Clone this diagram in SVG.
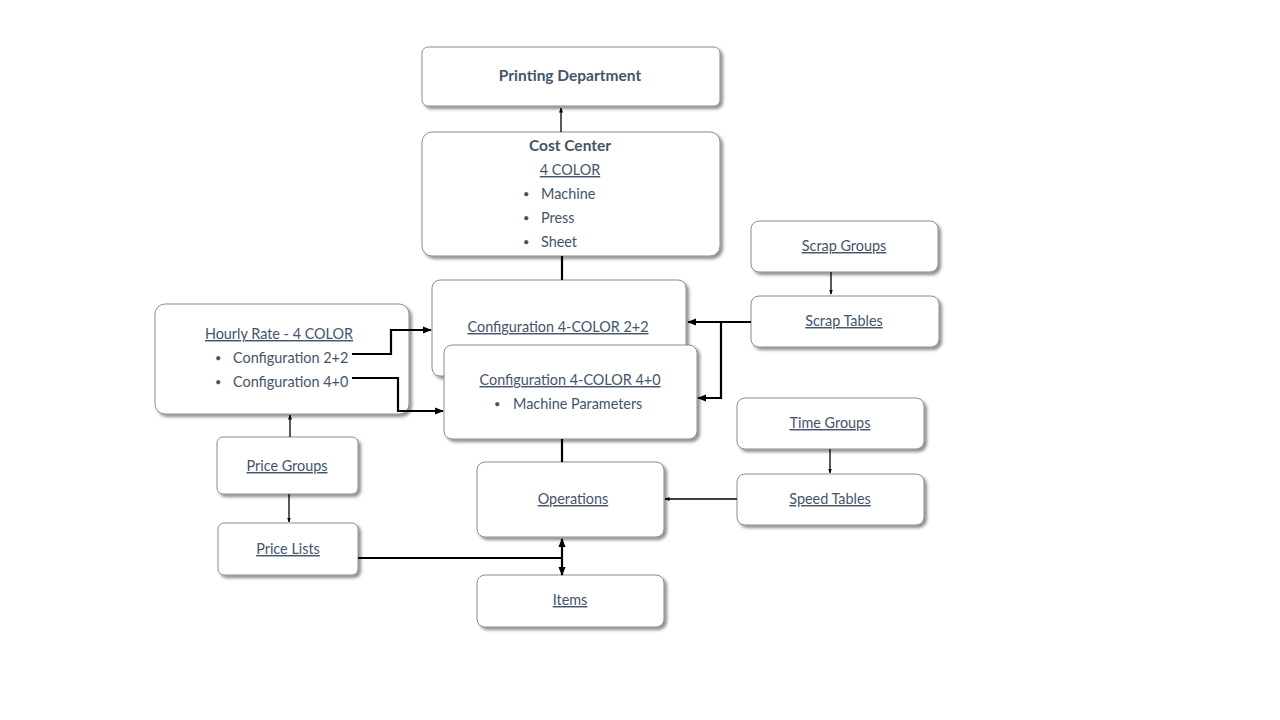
<svg xmlns="http://www.w3.org/2000/svg" width="1280" height="720" viewBox="0 0 1280 720">
<defs>
<filter id="sh" x="-10%" y="-10%" width="130%" height="140%">
<feDropShadow dx="2.5" dy="2.5" stdDeviation="1.5" flood-color="#000" flood-opacity="0.45"/>
</filter>
<marker id="ah" viewBox="0 0 10 10" refX="9" refY="5" markerWidth="5" markerHeight="5" orient="auto-start-reverse" markerUnits="userSpaceOnUse">
<path d="M0,1 L10,5 L0,9 z" fill="#000"/>
</marker>
<marker id="ahb" viewBox="0 0 10 10" refX="9" refY="5" markerWidth="9" markerHeight="9" orient="auto-start-reverse" markerUnits="userSpaceOnUse">
<path d="M0,1 L10,5 L0,9 z" fill="#000"/>
</marker>
</defs>
<style>
.box{fill:#fff;stroke:#8c8c8c;stroke-width:1;filter:url(#sh)}
text{font-family:Lato,"Open Sans","Liberation Sans",sans-serif;font-size:14.4px;fill:#44546A}
.c{text-anchor:middle}
.b{font-weight:bold;font-size:15.5px}
.u{text-decoration:underline}
.bl{font-size:11px}
.thin{stroke:#000;stroke-width:1.3;fill:none}
.thick{stroke:#000;stroke-width:2.2;fill:none}
</style>
<rect width="1280" height="720" fill="#fff"/>

<g id="printing-department">
<rect class="box" x="422" y="47" width="298" height="59" rx="6"/>
<text class="c b" x="570" y="81">Printing Department</text>
</g>

<g id="cost-center">
<rect class="box" x="422" y="132" width="298" height="124" rx="10"/>
<text class="c b" x="570" y="151">Cost Center</text>
<text class="c u" x="570" y="175">4 COLOR</text>
<text class="bl" x="523" y="198">•</text><text x="541" y="199">Machine</text>
<text class="bl" x="523" y="222">•</text><text x="541" y="223">Press</text>
<text class="bl" x="523" y="246">•</text><text x="541" y="247">Sheet</text>
</g>

<g id="hourly-rate">
<rect class="box" x="155" y="304" width="254" height="110" rx="10"/>
<text class="c u" x="279" y="339">Hourly Rate - 4 COLOR</text>
<text class="bl" x="215" y="362">•</text><text x="233" y="363">Configuration 2+2</text>
<text class="bl" x="215" y="386">•</text><text x="233" y="387">Configuration 4+0</text>
</g>

<g id="config-22">
<rect class="box" x="432" y="280" width="254" height="96" rx="8"/>
<text class="c u" x="558" y="332">Configuration 4-COLOR 2+2</text>
</g>

<g id="config-40">
<rect class="box" x="444" y="345" width="253" height="94" rx="8"/>
<text class="c u" x="570" y="385">Configuration 4-COLOR 4+0</text>
<text class="bl" x="494" y="408">•</text><text x="513" y="409">Machine Parameters</text>
</g>

<g id="scrap-groups">
<rect class="box" x="751" y="221" width="187" height="51" rx="8"/>
<text class="c u" x="844" y="251">Scrap Groups</text>
</g>

<g id="scrap-tables">
<rect class="box" x="751" y="296" width="188" height="51" rx="8"/>
<text class="c u" x="844" y="326">Scrap Tables</text>
</g>

<g id="time-groups">
<rect class="box" x="737" y="398" width="187" height="51" rx="8"/>
<text class="c u" x="830" y="428">Time Groups</text>
</g>

<g id="speed-tables">
<rect class="box" x="737" y="474" width="187" height="51" rx="8"/>
<text class="c u" x="830" y="504">Speed Tables</text>
</g>

<g id="operations">
<rect class="box" x="477" y="462" width="187" height="75" rx="8"/>
<text class="c u" x="573" y="504">Operations</text>
</g>

<g id="price-groups">
<rect class="box" x="217" y="437" width="141" height="57" rx="6"/>
<text class="c u" x="287" y="471">Price Groups</text>
</g>

<g id="price-lists">
<rect class="box" x="218" y="523" width="140" height="52" rx="6"/>
<text class="c u" x="288" y="554">Price Lists</text>
</g>

<g id="items">
<rect class="box" x="477" y="575" width="187" height="52" rx="8"/>
<text class="c u" x="570" y="605">Items</text>
</g>

<g id="connectors">
<line class="thin" x1="561" y1="132" x2="561" y2="108" marker-end="url(#ah)"/>
<line class="thick" x1="562" y1="256" x2="562" y2="280"/>
<line class="thick" x1="562" y1="439" x2="562" y2="462"/>
<polyline class="thick" points="352,354 391,354 391,330 431,330" marker-end="url(#ahb)"/>
<polyline class="thick" points="352,378 398,378 398,411 443,411" marker-end="url(#ahb)"/>
<line class="thin" x1="831" y1="272" x2="831" y2="294" marker-end="url(#ah)"/>
<line class="thick" x1="751" y1="322" x2="688" y2="322" marker-end="url(#ahb)"/>
<polyline class="thick" points="721,322 721,398 698,398" marker-end="url(#ahb)"/>
<line class="thin" x1="830" y1="449" x2="830" y2="473" marker-end="url(#ah)"/>
<line class="thin" x1="737" y1="499" x2="665" y2="499" marker-end="url(#ah)"/>
<line class="thin" x1="290" y1="437" x2="290" y2="415" marker-end="url(#ah)"/>
<line class="thin" x1="289" y1="494" x2="289" y2="522" marker-end="url(#ah)"/>
<line class="thick" x1="358" y1="558" x2="562" y2="558"/>
<line class="thick" x1="562" y1="539" x2="562" y2="575" marker-start="url(#ahb)" marker-end="url(#ahb)"/>
</g>
</svg>
